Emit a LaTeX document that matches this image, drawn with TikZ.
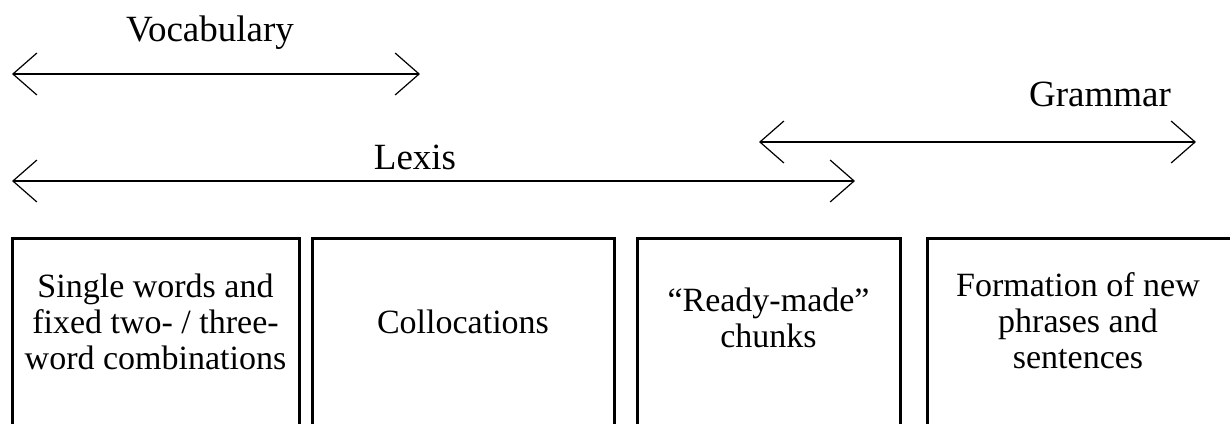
\documentclass[tikz,border=0pt]{standalone}
\usepackage{fontspec}
\setmainfont{Liberation Serif}
\usetikzlibrary{arrows.meta}

\tikzset{
  barb/.tip={Straight Barb[length=24pt, width=42pt]},
  span/.style={line width=1.2pt, barb-barb},
  cellframe/.style={line width=3pt},
  celltext/.style={align=center, inner sep=0pt, font=\fontsize{34}{36}\selectfont},
  tag/.style={inner sep=0pt, anchor=base, font=\fontsize{37}{40}\selectfont},
}

\begin{document}
\begin{tikzpicture}[x=1pt, y=-1pt]
\useasboundingbox (0,0) rectangle (1230,423);
\clip (0,0) rectangle (1230,423);

% range arrows
\coordinate (vocabL) at (12,74);
\coordinate (vocabR) at (420,74);
\coordinate (lexisL) at (12,181);
\coordinate (lexisR) at (855,181);
\coordinate (gramL) at (759,142);
\coordinate (gramR) at (1196,142);
\draw [span] (vocabL) -- (vocabR);
\draw [span] (lexisL) -- (lexisR);
\draw [span] (gramL) -- (gramR);
\node [tag] (vocab) at (210,41) {Vocabulary};
\node [tag] (lexis) at (415,169) {Lexis};
\node [tag] (gram) at (1100,106) {Grammar};

% boxes, open at the bottom edge
\draw [cellframe] (12,480) rectangle (299,238);
\draw [cellframe] (312,480) rectangle (614,238);
\draw [cellframe] (637,480) rectangle (900,238);
\draw [cellframe] (927,480) rectangle (1240,238);
\node [celltext] (single) at (155.5,322) {Single words and\\fixed two- / three-\\word combinations};
\node [celltext] (colloc) at (463,322) {Collocations};
\node [celltext] (chunks) at (768.5,318) {“Ready-made”\\chunks};
\node [celltext] (formation) at (1078,321) {Formation of new\\phrases and\\sentences};
\end{tikzpicture}
\end{document}
